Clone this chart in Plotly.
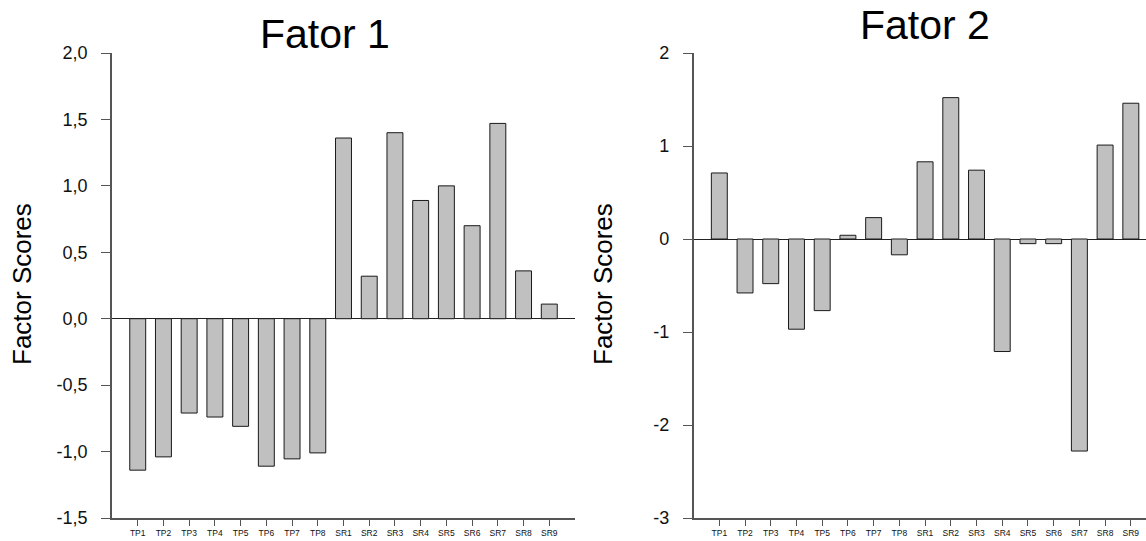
import plotly.graph_objects as go

categories = ["TP1", "TP2", "TP3", "TP4", "TP5", "TP6", "TP7", "TP8",
              "SR1", "SR2", "SR3", "SR4", "SR5", "SR6", "SR7", "SR8", "SR9"]
fator1 = [-1.14, -1.04, -0.71, -0.74, -0.81, -1.11, -1.055, -1.01,
          1.36, 0.32, 1.40, 0.89, 1.00, 0.70, 1.47, 0.36, 0.11]
fator2 = [0.71, -0.58, -0.48, -0.97, -0.77, 0.04, 0.23, -0.17,
          0.83, 1.52, 0.74, -1.21, -0.05, -0.05, -2.28, 1.01, 1.46]
y1_ticks = [-1.5, -1.0, -0.5, 0.0, 0.5, 1.0, 1.5, 2.0]
y1_text = ["-1,5", "-1,0", "-0,5", "0,0", "0,5", "1,0", "1,5", "2,0"]
y2_ticks = [-3, -2, -1, 0, 1, 2]
y2_text = ["-3", "-2", "-1", "0", "1", "2"]
titles = ["Fator 1", "Fator 2"]
ytitle = "Factor Scores"

W, H = 1146, 541
FONT = "Arial, Liberation Sans, sans-serif"
AX = "#555555"

def px_x(p):
    return p / W

def px_y(p):
    return 1 - p / H

fig = go.Figure()
bar_style = dict(marker=dict(color="#c0c0c0", line=dict(color="#1a1a1a", width=1)),
                 width=0.62, showlegend=False, hoverinfo="x+y")
fig.add_trace(go.Bar(x=categories, y=fator1, xaxis="x", yaxis="y", **bar_style))
fig.add_trace(go.Bar(x=categories, y=fator2, xaxis="x2", yaxis="y2", **bar_style))

xcommon = dict(type="category", showline=True, linecolor=AX, linewidth=1.5,
               ticks="outside", ticklen=6, tickcolor=AX, tickwidth=1.2,
               showgrid=False, zeroline=False, automargin=False,
               tickfont=dict(family=FONT, size=8.5, color="#111"))
ycommon = dict(showline=True, linecolor=AX, linewidth=1.5,
               ticks="outside", ticklen=9, tickcolor=AX, tickwidth=1.2,
               showgrid=False, zeroline=True, zerolinecolor="#222", zerolinewidth=1,
               automargin=False,
               tickfont=dict(family=FONT, size=18, color="#111"),
               ticklabelstandoff=10)

ydom = [px_y(518), px_y(53)]
fig.update_layout(
    width=W, height=H,
    margin=dict(l=0, r=0, t=0, b=0, autoexpand=False),
    paper_bgcolor="white", plot_bgcolor="white",
    bargap=0.38,
    xaxis=dict(domain=[px_x(112), px_x(575)], range=[-1, 17], anchor="y", **xcommon),
    yaxis=dict(domain=ydom, range=[-1.5, 2.0], tickvals=y1_ticks, ticktext=y1_text,
               anchor="x", **ycommon),
    xaxis2=dict(domain=[px_x(693.6), 1], range=[-1, 16.59], anchor="y2", **xcommon),
    yaxis2=dict(domain=ydom, range=[-3, 2], tickvals=y2_ticks, ticktext=y2_text,
                anchor="x2", **ycommon),
)

ann = []
ann.append(dict(text=titles[0], x=px_x(325), y=px_y(34), xref="paper", yref="paper",
                xanchor="center", yanchor="middle", showarrow=False,
                font=dict(family=FONT, size=41, color="black")))
ann.append(dict(text=titles[1], x=px_x(925), y=1, xref="paper", yref="paper",
                xanchor="center", yanchor="top", showarrow=False,
                font=dict(family=FONT, size=41, color="black")))
ann.append(dict(text=ytitle, x=px_x(22), y=px_y(284), xref="paper", yref="paper",
                xanchor="center", yanchor="middle", showarrow=False, textangle=-90,
                font=dict(family=FONT, size=26, color="black")))
ann.append(dict(text=ytitle, x=px_x(603), y=px_y(284), xref="paper", yref="paper",
                xanchor="center", yanchor="middle", showarrow=False, textangle=-90,
                font=dict(family=FONT, size=26, color="black")))
fig.update_layout(annotations=ann)

fig.write_html("out.html")
